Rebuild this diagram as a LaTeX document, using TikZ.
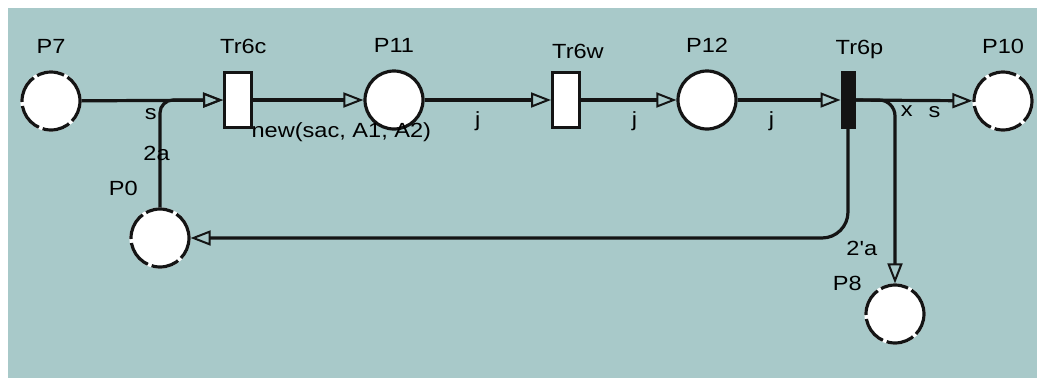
\documentclass[tikz,border=0pt]{standalone}
\usepackage{fontspec}
\setmainfont{Liberation Sans}
\usetikzlibrary{arrows.meta,positioning}
\definecolor{netbg}{RGB}{168,201,201}
\definecolor{netline}{RGB}{20,20,20}

\begin{document}
\begin{tikzpicture}[x=1pt, y=-1pt,
    place/.style={circle, draw=netline, fill=white, line width=3.2pt, minimum size=58pt, inner sep=0pt},
    dplace/.style={place, dash pattern=on 28pt off 4pt, preaction={draw=white, solid, line width=3.2pt}},
    trans/.style={rectangle, draw=netline, fill=white, line width=3pt, minimum width=27pt, minimum height=55pt, inner sep=0pt},
    btrans/.style={trans, fill=netline, minimum width=12pt},
    arc/.style={draw=netline, line width=3.2pt, -{Triangle[open, length=20pt, width=15pt, line width=2pt]}},
    lbl/.style={font=\fontsize{20.5}{23}\selectfont, inner sep=0pt, xscale=1.15, transform shape}]

    \useasboundingbox (0,0) rectangle (1037,378);
    \fill[netbg] (8,8) rectangle (1037,378);

    % places and transitions
    \node[dplace] (p7) at (51,101) {};
    \node[trans] (tr6c) at (238,100) {};
    \node[place] (p11) at (394,100) {};
    \node[trans] (tr6w) at (566,100) {};
    \node[place] (p12) at (707,100) {};
    \node[btrans] (tr6p) at (848,100) {};
    \node[dplace] (p10) at (1003,101) {};
    \node[dplace] (p0) at (160,238) {};
    \node[dplace] (p8) at (895,314) {};

    % names
    \node[lbl, above=17pt of p7] (lp7) {P7};
    \node[lbl, above=17pt of p11] (lp11) {P11};
    \node[lbl, above=17pt of p12] (lp12) {P12};
    \node[lbl, above=17pt of p10] (lp10) {P10};
    \node[lbl, above right=17pt and -3pt of tr6c.north west] (ltr6c) {Tr6c};
    \node[lbl, above right=12pt and 1pt of tr6w.north west] (ltr6w) {Tr6w};
    \node[lbl, above right=12pt and -5pt of tr6p.north west] (ltr6p) {Tr6p};
    \node[lbl, above left=12pt and 22pt of p0.north] (lp0) {P0};
    \node[lbl, left=33pt of p8.north] (lp8) {P8};

    % arcs
    \draw[arc] (p7) -- node[lbl, pos=0.49, below=6pt] {s} (tr6c);
    \draw[arc, rounded corners=13pt] (p0) |- node[lbl, pos=0.25, xshift=-3pt] {2a} (tr6c);
    \draw[arc] (tr6c) -- node[lbl, pos=0.8, below=21pt] {new(sac, A1, A2)} (p11);
    \draw[arc] (p11) -- node[lbl, pos=0.42, below=10pt] {j} (tr6w);
    \draw[arc] (tr6w) -- node[lbl, pos=0.56, below=10pt] {j} (p12);
    \draw[arc] (p12) -- node[lbl, pos=0.33, below=10pt] {j} (tr6p);
    \draw[arc] (tr6p) -- node[lbl, pos=0.675, below=4pt] {s} (p10);
    \draw[arc, rounded corners=16pt] (tr6p) -| node[lbl, pos=0.5, below right=4pt and 4pt] {x} (p8);
    \draw[arc, rounded corners=26pt] (tr6p) |- node[lbl, pos=0.5, anchor=north west, xshift=-3pt, yshift=-2pt] {2\textquotesingle a} (p0);
\end{tikzpicture}
\end{document}
